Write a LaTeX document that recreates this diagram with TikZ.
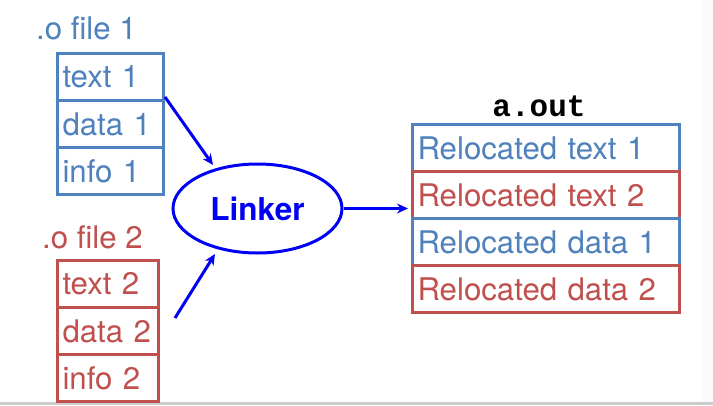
\documentclass[tikz,border=0pt]{standalone}
\usepackage{fontspec}
\setmainfont{TeX Gyre Heros}
\setmonofont{Liberation Mono}
\usetikzlibrary{shapes.geometric,arrows.meta}
\definecolor{fblue}{RGB}{79,129,189}
\definecolor{fred}{RGB}{192,80,77}
\definecolor{lblue}{RGB}{0,0,245}
\tikzset{
  big/.style={font=\fontsize{31.2}{31.2}\selectfont},
  cell/.style={big, draw, line width=3pt, rectangle, anchor=north west, inner xsep=5pt, inner ysep=0pt, minimum height=47pt, align=left},
  c1/.style={cell, text width=96pt},
  c2/.style={cell, text width=91pt},
  c3/.style={cell, text width=257pt},
  bluecell/.style={draw=fblue, text=fblue},
  redcell/.style={draw=fred, text=fred},
  lab/.style={big, inner sep=0pt, anchor=base west},
  link/.style={draw=lblue, line width=3pt, -{Stealth[length=11pt,width=10pt]}}
}
\begin{document}
\begin{tikzpicture}[x=1pt,y=-1pt]
\useasboundingbox (0,0) rectangle (713,405);
\fill[white] (0,0) rectangle (713,405);
\fill[black!2] (702,0) rectangle (713,402);
\fill[black!20] (0,402) rectangle (713,405);
% file 1
\node[lab, text=fblue] (l1) at (36,39) {.o file 1};
\node[c1, bluecell] (t1) at (56,52) {text 1};
\node[c1, bluecell] (d1) at (56,99) {data 1};
\node[c1, bluecell] (i1) at (56,146) {info 1};
% file 2
\node[lab, text=fred] (l2) at (42,248) {.o file 2};
\node[c2, redcell] (t2) at (56,259) {text 2};
\node[c2, redcell] (d2) at (56,306) {data 2};
\node[c2, redcell] (i2) at (56,353) {info 2};
% linker
\node[ellipse, draw=lblue, line width=3pt, minimum width=169pt, minimum height=89pt, inner sep=0pt, font=\fontsize{31.5}{31.5}\selectfont\bfseries, text=lblue] (lk) at (257.5,208.5) {Linker};
% a.out
\node[font=\fontsize{31}{31}\selectfont\ttfamily\bfseries, inner sep=0pt, anchor=base] (ao) at (539,116) {a.out};
\node[c3, bluecell] (r1) at (411,123) {Relocated text 1};
\node[c3, redcell] (r2) at (411,170) {Relocated text 2};
\node[c3, bluecell] (r3) at (411,217) {Relocated data 1};
\node[c3, redcell] (r4) at (411,264) {Relocated data 2};
% connectors
\coordinate (s1) at (165,97);
\coordinate (e1) at (213,165);
\coordinate (s2) at (175,318);
\coordinate (e2) at (215,254);
\coordinate (e3) at (408,208.5);
\draw[link] (s1) -- (e1);
\draw[link] (s2) -- (e2);
\draw[link] (lk.east) -- (e3);
\end{tikzpicture}
\end{document}
